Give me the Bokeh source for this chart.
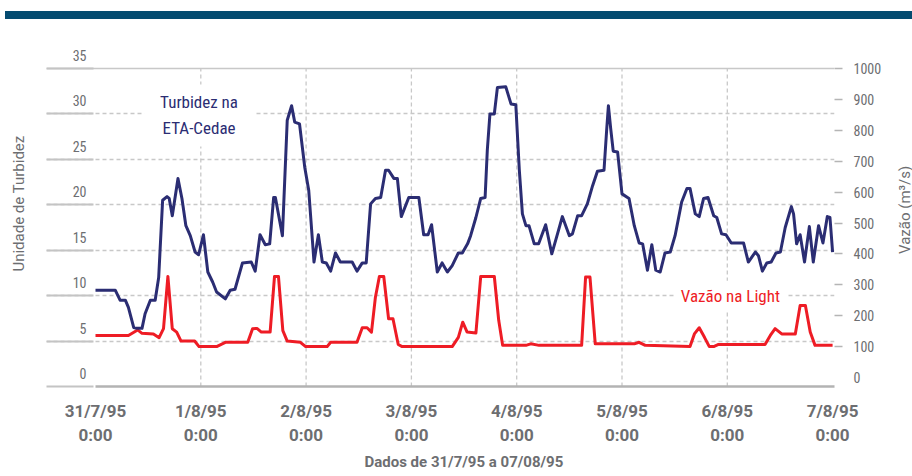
import math
from bokeh.plotting import figure
from bokeh.models import LinearAxis, Range1d, FixedTicker, Grid, Label, Title, Div
from bokeh.layouts import column, row
from bokeh.embed import file_html
from bokeh.resources import INLINE

# ---------------- data (hours since 31/7/95 0:00) ----------------
DAY_TICKS = [0, 24, 48, 72, 96, 120, 144, 168]
DAY_LABELS = ["31/7/95\n0:00", "1/8/95\n0:00", "2/8/95\n0:00", "3/8/95\n0:00",
              "4/8/95\n0:00", "5/8/95\n0:00", "6/8/95\n0:00", "7/8/95\n0:00"]
TURB_TICKS = [0, 5, 10, 15, 20, 25, 30, 35]
FLOW_TICKS = [0, 100, 200, 300, 400, 500, 600, 700, 800, 900, 1000]

TURB_HOURS = [0, 4.5, 5.6, 6.8, 7.5, 8.7, 9.4, 10.6, 11.3, 12.5,
              13.6, 14.4, 15.3, 16.3, 16.8, 17.5, 18.8, 19.7, 20.6, 21.6,
              22.7, 23.5, 24.6, 25.6, 26.7, 27.6, 29.6, 30.7, 31.8, 33.5,
              35.5, 36.4, 37.5, 38.7, 39.7, 40.6, 41.0, 42.6, 43.7, 44.7,
              45.4, 46.5, 47.7, 48.6, 49.8, 50.8, 51.7, 52.6, 53.6, 54.7,
              55.8, 58.5, 59.6, 60.8, 61.7, 62.7, 63.8, 65.0, 66.1, 66.8,
              68.0, 68.8, 69.7, 71.4, 73.7, 74.8, 75.8, 76.6, 77.9, 79.0,
              80.2, 81.3, 82.7, 83.6, 84.8, 85.5, 86.7, 87.8, 88.8, 89.3,
              89.9, 90.9, 91.6, 93.5, 94.7, 95.8, 96.6, 97.3, 98.1, 98.8,
              100.0, 101.0, 102.6, 104.0, 105.3, 106.4, 108.0, 108.7, 109.9, 110.8,
              112.1, 113.3, 114.4, 115.9, 116.5, 116.9, 117.4, 118.0, 119.0, 120.0,
              121.6, 122.8, 123.9, 124.7, 125.8, 126.8, 127.7, 128.7, 129.8, 131.0,
              132.1, 133.6, 134.8, 135.5, 136.7, 137.6, 138.6, 139.6, 140.9, 141.6,
              142.7, 143.7, 144.9, 147.7, 148.8, 150.4, 151.1, 152.0, 153.0, 154.0,
              155.1, 156.1, 157.2, 158.6, 159.1, 159.8, 160.6, 161.6, 162.7, 163.6,
              164.8, 165.8, 166.8, 167.4, 168.0]
TURB_VALUES = [10.6, 10.6, 9.5, 9.5, 8.7, 6.5, 6.4, 6.4, 8.0, 9.5,
               9.5, 12.0, 20.5, 20.9, 20.7, 18.8, 22.9, 20.7, 17.7, 16.6,
               14.8, 14.5, 16.7, 12.6, 11.5, 10.4, 9.65, 10.6, 10.7, 13.6,
               13.7, 12.7, 16.7, 15.6, 15.7, 20.8, 20.8, 16.6, 29.3, 30.9,
               29.1, 28.9, 24.1, 21.6, 13.7, 16.7, 13.7, 13.6, 12.7, 14.7,
               13.7, 13.7, 12.7, 13.6, 13.6, 20.1, 20.7, 20.8, 23.8, 23.8,
               22.9, 22.9, 18.7, 20.8, 20.8, 16.7, 16.7, 17.8, 12.6, 13.6,
               12.6, 13.3, 14.7, 14.7, 15.7, 16.6, 18.6, 20.7, 20.8, 26.0,
               30.0, 30.0, 32.9, 33.0, 31.1, 31.0, 23.8, 19.0, 17.7, 17.7,
               15.7, 15.7, 17.8, 14.6, 16.8, 18.7, 16.6, 16.8, 18.8, 18.8,
               20.1, 22.1, 23.7, 23.8, 28.2, 30.9, 28.5, 25.9, 25.8, 21.2,
               20.7, 17.7, 15.8, 15.7, 12.8, 15.6, 12.8, 12.6, 14.7, 14.8,
               16.6, 20.3, 21.8, 21.8, 19.0, 18.7, 20.7, 20.8, 18.8, 18.6,
               16.8, 16.7, 15.8, 15.8, 13.7, 14.8, 14.4, 12.7, 13.6, 13.7,
               14.7, 14.8, 17.5, 19.8, 19.0, 15.7, 16.7, 13.7, 17.6, 13.7,
               17.7, 15.8, 18.7, 18.6, 14.8]

FLOW_HOURS = [0, 7.5, 9.6, 10.6, 13.2, 14.5, 15.5, 16.5, 17.5, 18.5,
              19.5, 22.6, 23.6, 27.6, 29.6, 34.7, 35.8, 36.8, 37.8, 39.8,
              40.8, 41.7, 42.7, 43.7, 46.7, 47.9, 52.8, 53.6, 59.6, 60.8,
              61.9, 62.9, 63.8, 64.7, 65.7, 66.8, 67.8, 69.0, 69.9, 81.3,
              82.7, 83.7, 84.7, 86.7, 87.8, 90.9, 91.9, 92.8, 98.1, 99.2,
              101.1, 110.8, 111.7, 112.7, 113.9, 122.8, 123.9, 125.3, 135.5, 136.5,
              137.6, 138.8, 139.9, 140.9, 142.0, 152.6, 153.8, 154.9, 156.4, 159.5,
              160.6, 161.8, 162.9, 164.0, 168.0]
FLOW_VALUES = [136, 136, 154, 143, 141, 129, 158, 327, 158, 147,
               118, 118, 100, 100, 114, 114, 158, 159, 147, 147,
               327, 327, 152, 118, 114, 100, 100, 114, 114, 161,
               161, 147, 260, 327, 327, 190, 190, 107, 100, 100,
               130, 179, 147, 144, 327, 327, 185, 104, 104, 109,
               104, 104, 325, 325, 109, 109, 114, 104, 100, 141,
               161, 130, 100, 100, 107, 107, 136, 158, 141, 141,
               233, 233, 147, 104, 104]

# ---------------- geometry / style ----------------
PX_PER_HOUR = 105.3 / 24.0
PX_PER_TURB = 9.086
PX_PER_FLOW = 0.3089
FRAME_W, FRAME_H = 788, 366
LEFT_PAD_PX = 49          # frame left edge to 31/7 0:00
FLOW_ZERO_PX = 9          # flow zero above frame bottom
LAB_SHIFT = 13 / PX_PER_TURB

X_START = -LEFT_PAD_PX / PX_PER_HOUR
X_END = X_START + FRAME_W / PX_PER_HOUR
Y_END = FRAME_H / PX_PER_TURB
FLOW_START = -FLOW_ZERO_PX / PX_PER_FLOW
FLOW_END = FLOW_START + FRAME_H / PX_PER_FLOW
AXIS_LINE_END = X_END + 48 / PX_PER_HOUR

NAVY = "#2b2d73"
RED = "#ee1c25"
GREY_TXT = "#6d6e71"
GRID = "#c8c8c8"
COND = "'Roboto Condensed', 'Liberation Sans Narrow', 'DejaVu Sans Condensed', Roboto"

p = figure(width=889, height=457, x_range=Range1d(X_START, X_END),
           y_range=Range1d(0, Y_END), x_axis_type=None, y_axis_type=None,
           output_backend="svg", toolbar_location=None,
           min_border_left=46, min_border_right=55, min_border_top=1, min_border_bottom=90)
p.outline_line_color = None
p.background_fill_color = "white"
p.border_fill_color = "white"
p.extra_y_ranges = {
    "lab": Range1d(-LAB_SHIFT - 1e-9, Y_END - LAB_SHIFT),
    "flow": Range1d(FLOW_START, FLOW_END),
}

# grids
p.add_layout(Grid(dimension=1, ticker=FixedTicker(ticks=TURB_TICKS[1:-1]),
                  grid_line_color=GRID, grid_line_dash="4 3", grid_line_width=1.3))
p.add_layout(Grid(dimension=1, ticker=FixedTicker(ticks=TURB_TICKS[-1:]),
                  grid_line_color=GRID, grid_line_width=1.5))
vx = DAY_TICKS[1:-1]
p.segment(x0=vx, y0=[TURB_TICKS[0]] * len(vx), x1=vx, y1=[TURB_TICKS[-1]] * len(vx),
          line_color=GRID, line_dash="4 3", line_width=1.3)

# data
p.line(FLOW_HOURS, FLOW_VALUES, y_range_name="flow", line_color=RED, line_width=3,
       line_join="round")
p.line(TURB_HOURS, TURB_VALUES, line_color=NAVY, line_width=3, line_join="round")

# left axis (labels above gridlines, solid stubs as minor ticks)
left = LinearAxis(y_range_name="lab",
                  ticker=FixedTicker(ticks=TURB_TICKS,
                                     minor_ticks=[t - LAB_SHIFT for t in TURB_TICKS]),
                  axis_line_color=None, major_tick_out=0, major_tick_in=0,
                  minor_tick_out=0, minor_tick_in=47, minor_tick_line_color="#c4c4c4",
                  minor_tick_line_width=2,
                  major_label_standoff=-40, major_label_text_font=COND,
                  major_label_text_font_size="14px", major_label_text_color=GREY_TXT,
                  axis_label="Unidade de Turbidez", axis_label_standoff=42,
                  axis_label_text_font="Roboto", axis_label_text_font_size="15px",
                  axis_label_text_font_style="normal", axis_label_text_color=GREY_TXT)
p.add_layout(left, "left")

right = LinearAxis(y_range_name="flow",
                   ticker=FixedTicker(ticks=FLOW_TICKS, minor_ticks=FLOW_TICKS[1:]),
                   axis_line_color=None, major_tick_out=0, major_tick_in=0,
                   minor_tick_out=8, minor_tick_in=0, minor_tick_line_color="#b5b5b5",
                   minor_tick_line_width=1.5,
                   major_label_standoff=11, major_label_text_font=COND,
                   major_label_text_font_size="14px", major_label_text_color=GREY_TXT)
p.add_layout(right, "right")

bottom = LinearAxis(ticker=FixedTicker(ticks=DAY_TICKS),
                    major_label_overrides=dict(zip(DAY_TICKS, DAY_LABELS)),
                    bounds=(DAY_TICKS[0], AXIS_LINE_END),
                    axis_line_color="#b3b3b3", axis_line_width=2.5,
                    major_tick_out=0, major_tick_in=0, minor_tick_out=0, minor_tick_in=0,
                    major_label_standoff=14, major_label_text_font="Roboto",
                    major_label_text_font_size="17px", major_label_text_font_style="bold",
                    major_label_text_color=GREY_TXT, major_label_text_line_height=1.2)
p.add_layout(bottom, "below")

p.add_layout(Title(text="Dados de 31/7/95 a 07/08/95", align="left", offset=318,
                   standoff=7, vertical_align="bottom",
                   text_font="Roboto", text_font_size="15px", text_font_style="bold",
                   text_color=GREY_TXT), "below")

# series labels
lab1 = Label(x=23.6, y=29.83, text="Turbidez na\nETA-Cedae", text_align="center",
             text_baseline="middle", text_font=COND, text_font_size="17px",
             text_color=NAVY, background_fill_color="white", text_line_height=1.3)
lab2 = Label(x=144.7, y=10.0, text="Vazão na Light", text_align="center",
             text_baseline="middle", text_font=COND, text_font_size="17px",
             text_color=RED, background_fill_color="white")
if "padding" in Label.properties():
    try:
        lab1.padding = (16, 8)
        lab2.padding = (6, 5)
    except Exception:
        lab1.padding = 10
        lab2.padding = 6
p.add_layout(lab1)
p.add_layout(lab2)

# right-hand axis title, reading bottom-to-top
side_title = Div(text="Vazão (m³/s)", width=22, height=372,
                 styles={"display": "flex", "align-items": "center",
                         "justify-content": "center",
                         "writing-mode": "vertical-rl", "transform": "rotate(180deg)",
                         "font-family": "Roboto", "font-size": "15px",
                         "line-height": "1", "color": GREY_TXT, "white-space": "nowrap",
                         "overflow": "visible"})

bar = Div(text="", width=907, height=8, margin=(11, 0, 0, 5),
          styles={"background-color": "#044b70"})
layout = column(bar, row(p, side_title, spacing=0), spacing=0)

open("out.html", "w").write(file_html(layout, INLINE))
